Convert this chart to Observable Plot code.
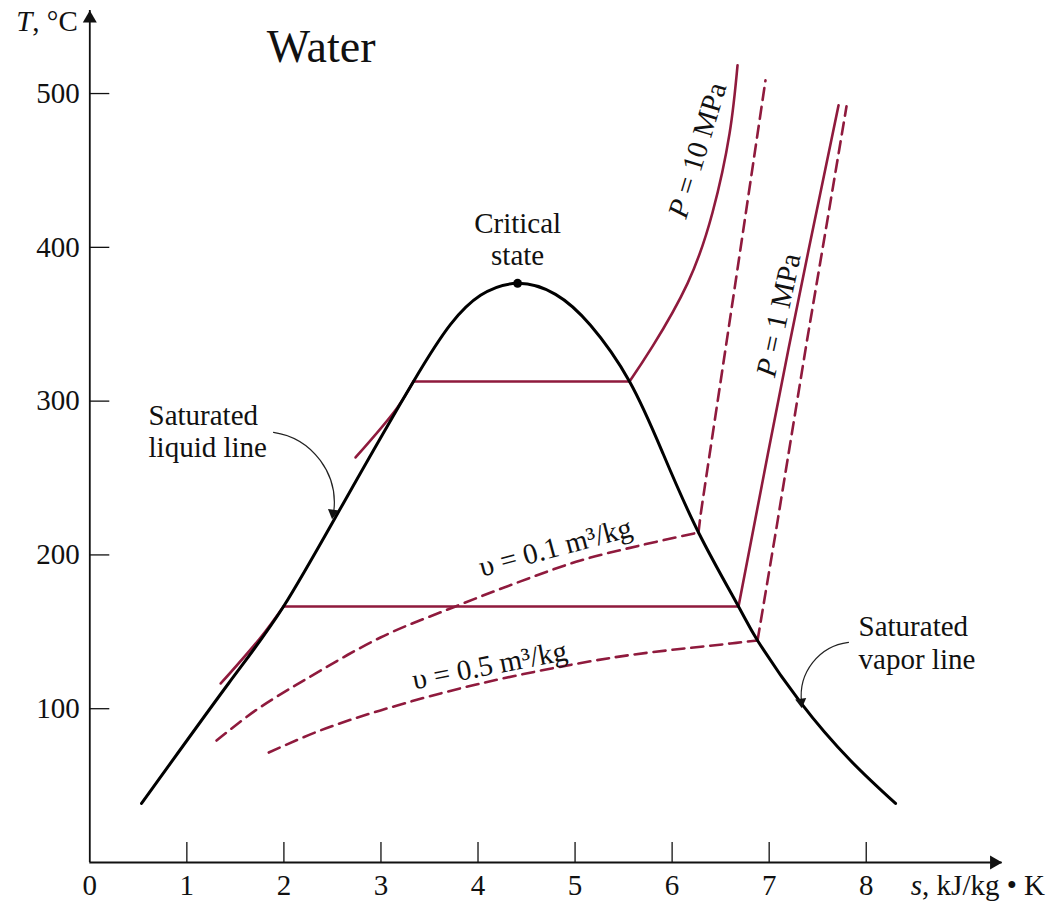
<!DOCTYPE html>
<html>
<head>
<meta charset="utf-8">
<script src="https://cdn.jsdelivr.net/npm/d3@7"></script>
<script src="https://cdn.jsdelivr.net/npm/@observablehq/plot@0.6"></script>
<style>
  html, body { margin: 0; padding: 0; background: #fff; }
</style>
</head>
<body>
<div id="chart"></div>
<script>
// ---------- data (entropy s in kJ/kg·K, temperature T in °C) ----------
const xTicks = [0, 1, 2, 3, 4, 5, 6, 7, 8];
const yTicks = [100, 200, 300, 400, 500];

// saturation dome
const dome = [
  [0.533, 38.4], [1.429, 116.4], [1.996, 166.5], [2.635, 236.1], [3.335, 312.8],
  [3.717, 349.9], [4.026, 368.8], [4.408, 376.6], [4.799, 369.4], [5.159, 349.3],
  [5.561, 312.8], [5.901, 266.7], [6.272, 214.6], [6.684, 166.5], [6.880, 144.4],
  [7.323, 104.1], [7.838, 66.3], [8.302, 38.4]
];
const critical = [[4.408, 376.6]];

// P = 10 MPa isobar
const p10Liquid = [[2.738, 263.4], [3.17, 295.9], [3.335, 312.8]];
const p10Mix = [[3.335, 312.8], [5.561, 312.8]];
const p10Vapor = [
  [5.561, 312.8], [5.798, 335.6], [6.159, 376.6], [6.417, 422.8], [6.592, 474.1], [6.674, 518.4]
];

// P = 1 MPa isobar
const p1Liquid = [[1.349, 116.4], [1.760, 146.3], [1.996, 166.5]];
const p1Mix = [[1.996, 166.5], [6.684, 166.5]];
const p1Vapor = [[6.684, 166.5], [7.200, 334.3], [7.715, 492.4]];

// v = 0.1 m3/kg isochore
const v01Mix = [
  [1.306, 79.3], [1.708, 98.9], [2.171, 117.1], [2.995, 146.3], [3.768, 166.5],
  [4.438, 182.8], [5.056, 196.4], [5.674, 206.2], [6.272, 214.6]
];
const v01Vapor = [
  [6.272, 214.6], [6.293, 225.7], [6.334, 243.3], [6.447, 290.7], [6.653, 377.2], [6.962, 508.6]
];

// v = 0.5 m3/kg isochore
const v05Mix = [
  [1.844, 71.5], [2.377, 85.9], [2.995, 98.9], [4.026, 116.4], [5.396, 133.3],
  [6.602, 142.4], [6.880, 144.4]
];
const v05Vapor = [
  [6.880, 144.4], [7.076, 217.9], [7.385, 337.6], [7.591, 414.3], [7.797, 491.7]
];

// annotation pointers (label -> line), bend in degrees
const liquidPointer = {x1: 1.893, y1: 279.7, x2: 2.511, y2: 227.0, bend: 45};
const vaporPointer = {x1: 7.817, y1: 143.1, x2: 7.334, y2: 104.1, bend: -45};

// labels
const curveLabels = [
  {s: 6.262, T: 463.1, text: "P = 10 MPa", angle: -73},
  {s: 7.097, T: 355.9, text: "P = 1 MPa", angle: -78},
  {s: 4.799, T: 204.9, text: "υ = 0.1 m³/kg", angle: -15},
  {s: 4.119, T: 128.1, text: "υ = 0.5 m³/kg", angle: -11}
];
const sideLabels = [
  {s: 0.605, T: 281.0, text: "Saturated\nliquid line"},
  {s: 7.921, T: 143.4, text: "Saturated\nvapor line"}
];

// ---------- styling ----------
const RED = "#8f1a3d";
const X_MAX = 9.4, Y_MAX = 554;
const W = 1055, H = 904, ML = 89.3, MR = 53.4, MT = 10, MB = 42;
const FONT = "'Liberation Serif', 'Times New Roman', serif";
const px = d => d[0], py = d => d[1];

// pixel-per-unit factors, used only to orient the filled pointer heads
const kx = (W - ML - MR) / X_MAX, ky = (H - MT - MB) / Y_MAX;
const HEAD = 3.2; // triangle half-size parameter (px)
const headOf = p => {
  const chord = Math.atan2(-(p.y2 - p.y1) * ky, (p.x2 - p.x1) * kx) * 180 / Math.PI;
  const endAngle = chord + p.bend; // screen angle (deg, clockwise from +x)
  const r = endAngle * Math.PI / 180;
  return {x: p.x2, y: p.y2, rot: endAngle + 90,
          dx: -2 * HEAD * Math.cos(r), dy: -2 * HEAD * Math.sin(r)};
};
const heads = [headOf(liquidPointer), headOf(vaporPointer)];

const redLine = (data, dashed, curve = "catmull-rom") =>
  Plot.line(data, {x: px, y: py, stroke: RED, strokeWidth: 2.6, curve,
    strokeDasharray: dashed ? "12,7" : null});

const pointerMark = p =>
  Plot.arrow([p], {x1: "x1", y1: "y1", x2: "x2", y2: "y2", bend: p.bend, headLength: 0,
    strokeWidth: 1.2, stroke: "#222"});

const chart = Plot.plot({
  width: W,
  height: H,
  marginLeft: ML,
  marginRight: MR,
  marginTop: MT,
  marginBottom: MB,
  x: {domain: [0, X_MAX], axis: null},
  y: {domain: [0, Y_MAX], axis: null},
  style: {fontFamily: FONT, fontSize: "29px", background: "#fff", color: "#111"},
  marks: [
    // axes
    Plot.ruleY([0], {x1: 0, x2: X_MAX, stroke: "#111", strokeWidth: 1.8}),
    Plot.ruleX([0], {y1: 0, y2: Y_MAX, stroke: "#111", strokeWidth: 1.8}),
    Plot.dot([X_MAX], {x: d => d, y: 0, dx: -8, symbol: "triangle", r: 5.2, rotate: 90, fill: "#111", stroke: null}),
    Plot.dot([Y_MAX], {x: 0, y: d => d, dy: 8, symbol: "triangle", r: 5.2, fill: "#111", stroke: null}),
    Plot.ruleX(xTicks.filter(d => d > 0), {y1: 0, y2: 13, stroke: "#111", strokeWidth: 1.3}),
    Plot.ruleY(yTicks, {x1: 0, x2: 0.206, stroke: "#111", strokeWidth: 1.3}),
    Plot.axisX(xTicks, {tickSize: 0, tickPadding: 12, label: null}),
    Plot.axisY(yTicks, {tickSize: 0, tickPadding: 10, label: null}),

    // isobars and isochores
    redLine(p1Liquid, false),
    redLine(p1Mix, false, "linear"),
    redLine(p1Vapor, false),
    redLine(p10Liquid, false),
    redLine(p10Mix, false, "linear"),
    redLine(p10Vapor, false, "natural"),
    redLine(v01Mix, true),
    redLine(v01Vapor, true),
    redLine(v05Mix, true),
    redLine(v05Vapor, true, "linear"),

    // saturation dome
    Plot.line(dome, {x: px, y: py, stroke: "#000", strokeWidth: 3, curve: "natural"}),
    Plot.dot(critical, {x: px, y: py, r: 4.5, fill: "#000"}),

    // pointers
    pointerMark(liquidPointer),
    pointerMark(vaporPointer),
    Plot.dot(heads, {x: "x", y: "y", dx: d => d.dx, dy: d => d.dy, rotate: "rot", symbol: "triangle", r: Math.sqrt(HEAD * HEAD * 3 * Math.sqrt(3) / Math.PI), fill: "#111", stroke: null}),

    // text
    Plot.text(critical, {x: px, y: py, text: () => "Critical\nstate", lineAnchor: "bottom", dy: -18, lineHeight: 1.12, fill: "#111"}),
    Plot.text(sideLabels, {x: "s", y: "T", text: "text", textAnchor: "start", lineAnchor: "middle", lineHeight: 1.12, fill: "#111"}),
    Plot.text(curveLabels, {x: "s", y: "T", text: "text", rotate: "angle", lineAnchor: "middle", fill: "#111"}),
    Plot.text(["Water"], {frameAnchor: "top-left", dx: 177, dy: 19, textAnchor: "start", lineAnchor: "top", fontSize: 46, fill: "#111"}),
    Plot.text(["T, °C"], {frameAnchor: "top-left", dx: -12, dy: 0, textAnchor: "end", lineAnchor: "top", fill: "#111"}),
    Plot.text(["s, kJ/kg • K"], {frameAnchor: "bottom-left", dx: 821, dy: 12, textAnchor: "start", lineAnchor: "top", fill: "#111"})
  ]
});

// italicise the variable symbols
chart.querySelectorAll("text").forEach(t => {
  const c = t.textContent;
  if (/^[PTs], /.test(c) || /^P = /.test(c)) {
    const first = c[0];
    t.textContent = "";
    const it = document.createElementNS("http://www.w3.org/2000/svg", "tspan");
    it.setAttribute("font-style", "italic");
    it.textContent = first;
    t.appendChild(it);
    t.appendChild(document.createTextNode(c.slice(1)));
  }
});

document.getElementById("chart").appendChild(chart);
</script>
</body>
</html>
